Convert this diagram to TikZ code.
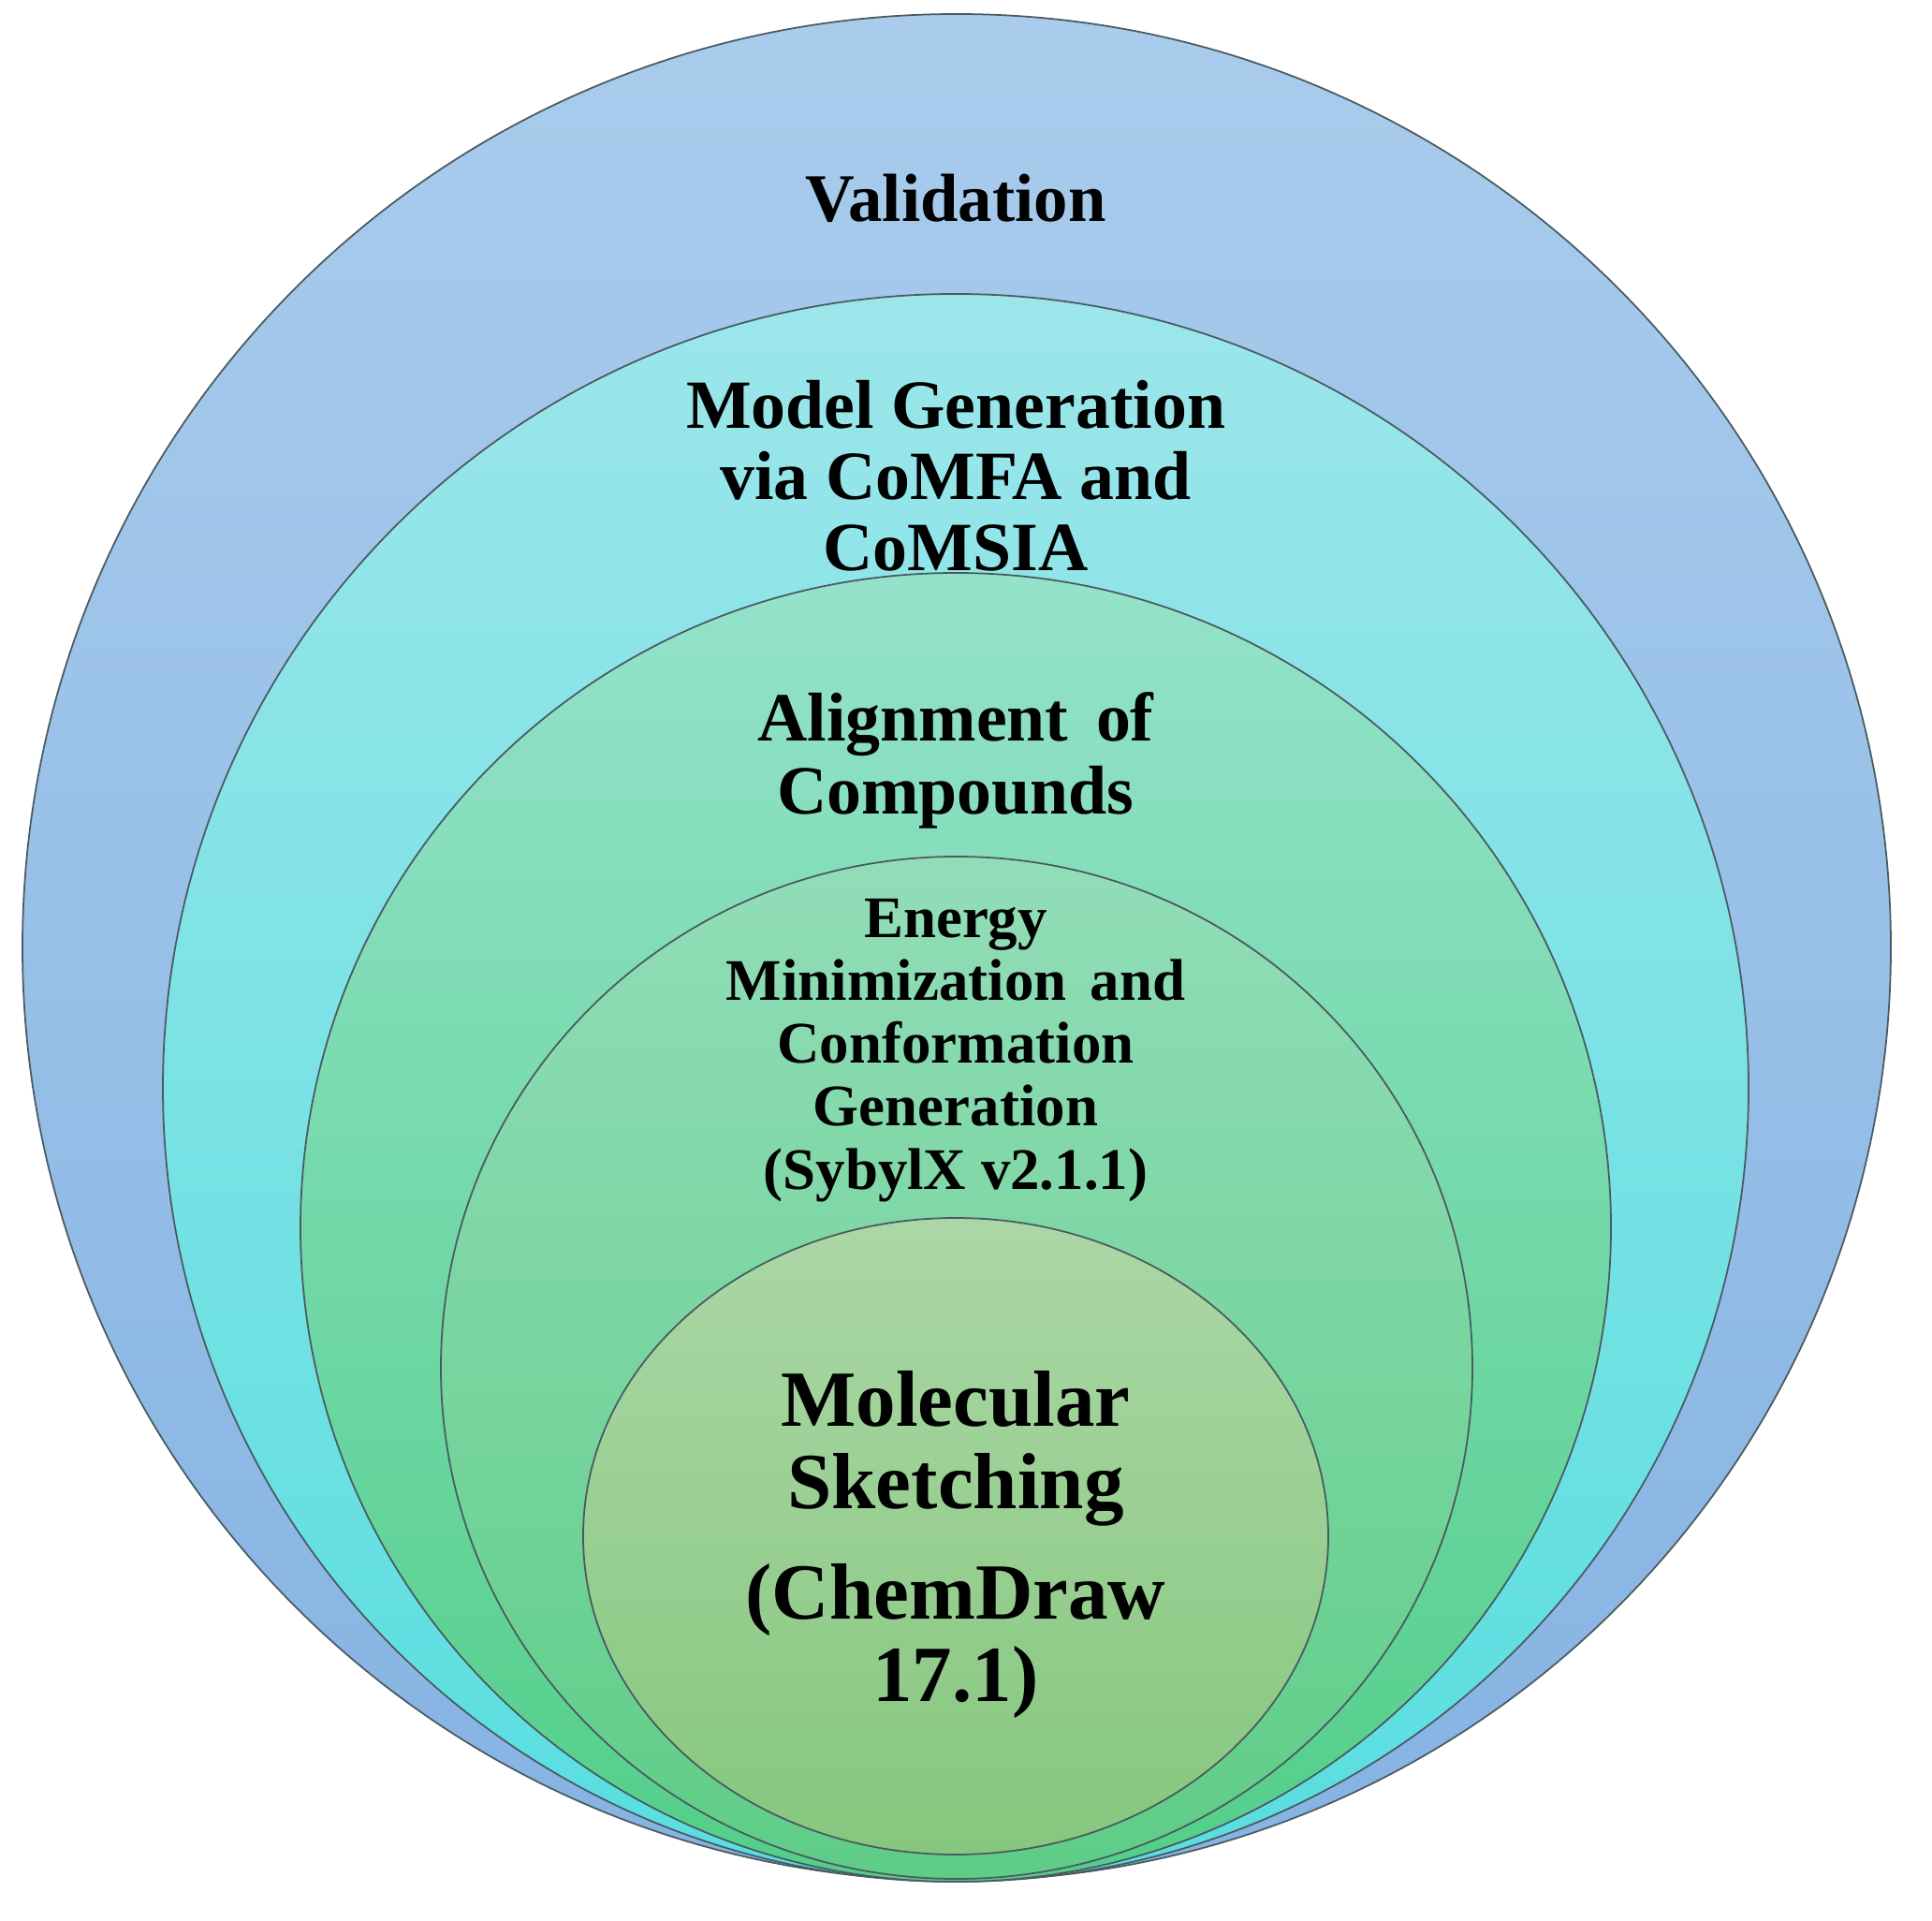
\documentclass[tikz,border=0pt]{standalone}
\usepackage{fontspec}
\setmainfont{Liberation Serif}
\usepackage{xcolor}
\usepackage{tikz}
\usetikzlibrary{positioning}
\definecolor{valtop}{HTML}{A9CCEC}
\definecolor{valbot}{HTML}{86B3E3}
\definecolor{modtop}{HTML}{9CE6EA}
\definecolor{modbot}{HTML}{58DEE0}
\definecolor{alitop}{HTML}{94E2CA}
\definecolor{alibot}{HTML}{52CF88}
\definecolor{enetop}{HTML}{92DDB8}
\definecolor{enebot}{HTML}{5ECD86}
\definecolor{moltop}{HTML}{ABD7A6}
\definecolor{molbot}{HTML}{86C77E}
\definecolor{ringline}{HTML}{4A5A60}

\begin{document}
\begin{tikzpicture}[
  ring/.style={draw=ringline,line width=0.5pt},
  label/.style={align=center,inner sep=0pt,font=\bfseries}]
  \useasboundingbox (0,0) rectangle (20.64,20.51);
  \path[ring,top color=valtop,bottom color=valbot] (10.22,10.39) ellipse [x radius=9.98,y radius=9.97];
  \path[ring,top color=modtop,bottom color=modbot] (10.21,8.89) ellipse [x radius=8.47,y radius=8.48];
  \path[ring,top color=alitop,bottom color=alibot] (10.21,7.40) ellipse [x radius=7.00,y radius=6.99];
  \path[ring,top color=enetop,bottom color=enebot] (10.22,5.90) ellipse [x radius=5.51,y radius=5.46];
  \path[ring,top color=moltop,bottom color=molbot] (10.21,4.10) ellipse [x radius=3.98,y radius=3.40];
  \node[label,font=\bfseries\fontsize{20.7}{24}\selectfont,anchor=base] (val) at (10.21,18.14) {Validation};
  \node[label,font=\bfseries\fontsize{21}{21.6}\selectfont] (mod) at (10.21,15.43)
    {Model Generation\\ via CoMFA and\\ CoMSIA};
  \node[label,font=\bfseries\fontsize{21}{22.4}\selectfont] (ali) at (10.21,12.385)
    {Alignment\hspace{0.4em}of\\ Compounds};
  \node[label,font=\bfseries\fontsize{17.9}{19.1}\selectfont] (ene) at (10.21,9.29)
    {Energy\\ Minimization\hspace{0.4em}and\\ Conformation\\ Generation\\ (SybylX v2.1.1)};
  \node[label,font=\bfseries\fontsize{24.2}{24.9}\selectfont] (mol) at (10.21,4.01)
    {Molecular\\ Sketching\\[0.31cm] (ChemDraw\\ 17.1)};
\end{tikzpicture}
\end{document}
